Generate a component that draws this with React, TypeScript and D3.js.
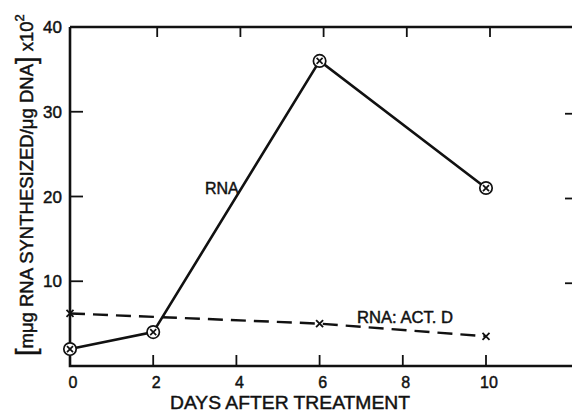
import React from "react";
import * as d3 from "d3";

const days = [0, 2, 6, 10];
const rnaValues = [2, 4, 36, 21];
const actDays = [0, 6, 10];
const actValues = [6.2, 5.0, 3.5];
const xTicks = [0, 2, 4, 6, 8, 10];
const yTicks = [10, 20, 30, 40];
const xTickLabels = ["0", "2", "4", "6", "8", "10"];

const W = 572;
const H = 412;
const FONT = "'Liberation Sans', Arial, sans-serif";
const INK = "#111";

export default function App() {
  const x = d3.scaleLinear().domain([0, 10]).range([70, 486]);
  const y = d3.scaleLinear().domain([0, 40]).range([366, 27]);
  const xRight = 574;

  const rnaPts: [number, number][] = days.map((d, i) => [x(d), y(rnaValues[i])]);
  const actPts: [number, number][] = actDays.map((d, i) => [x(d), y(actValues[i])]);
  const line = d3.line<[number, number]>().x((p) => p[0]).y((p) => p[1]);

  const txt = { fontFamily: FONT, fill: INK, stroke: INK, strokeWidth: 0.45 };

  return (
    <svg
      width={W}
      height={H}
      viewBox={`0 0 ${W} ${H}`}
      style={{ position: "absolute", left: 0, top: 0, background: "#fff" }}
    >
      <rect x={0} y={0} width={W} height={H} fill="#fff" />
      {/* frame */}
      <path
        d={`M${x(0)},${y(40)} L${x(0)},${y(0)} L${xRight},${y(0)}`}
        fill="none"
        stroke={INK}
        strokeWidth={2.6}
      />
      <line x1={x(0)} x2={xRight} y1={y(40)} y2={y(40)} stroke={INK} strokeWidth={2.4} />
      {/* bottom ticks */}
      {xTicks.slice(1).map((t) => (
        <line key={"bx" + t} x1={x(t)} x2={x(t)} y1={y(0)} y2={y(0) - 11} stroke={INK} strokeWidth={1.8} />
      ))}
      {/* top ticks */}
      {xTicks.slice(1).map((t) => (
        <line key={"tx" + t} x1={x(t) + 4} x2={x(t) + 4} y1={y(40)} y2={y(40) + 10} stroke={INK} strokeWidth={1.8} />
      ))}
      {/* left ticks */}
      {yTicks.slice(0, 3).map((t) => (
        <line key={"ly" + t} x1={x(0)} x2={x(0) + 13} y1={y(t)} y2={y(t)} stroke={INK} strokeWidth={1.8} />
      ))}
      {/* right ticks */}
      {yTicks.slice(0, 3).map((t) => (
        <line key={"ry" + t} x1={565} x2={xRight} y1={y(t) + 2} y2={y(t) + 2} stroke={INK} strokeWidth={1.8} />
      ))}
      {/* x tick labels */}
      {xTicks.map((t, i) => (
        <text key={"xl" + t} x={x(t) + 3} y={388} textAnchor="middle" fontSize={16} {...txt}>
          {xTickLabels[i]}
        </text>
      ))}
      {/* y tick labels */}
      {yTicks.map((t) => (
        <text key={"yl" + t} x={62} y={y(t) + 6} textAnchor="end" fontSize={17} {...txt}>
          {t}
        </text>
      ))}
      {/* x axis title */}
      <text x={290} y={409} textAnchor="middle" fontSize={18.5} textLength={240} lengthAdjust="spacingAndGlyphs" {...txt}>
        DAYS AFTER TREATMENT
      </text>
      {/* y axis title */}
      <text transform="translate(33,356) rotate(-90)" fontSize={18.5} {...txt}>
        <tspan fontSize={27} dy={2}>[</tspan>
        <tspan dy={-2}>mμg RNA SYNTHESIZED/μg DNA</tspan>
        <tspan fontSize={27} dy={2}>]</tspan>
        <tspan dy={-2}> x10</tspan>
        <tspan fontSize={13} dy={-9}>2</tspan>
      </text>

      {/* ACT D dashed line */}
      <path d={line(actPts) || ""} fill="none" stroke={INK} strokeWidth={2.4} strokeDasharray="15 8" />
      {actPts.map((p, i) => (
        <g key={"ax" + i} stroke={INK} strokeWidth={1.8}>
          <line x1={p[0] - 3.5} x2={p[0] + 3.5} y1={p[1] - 3.5} y2={p[1] + 3.5} />
          <line x1={p[0] - 3.5} x2={p[0] + 3.5} y1={p[1] + 3.5} y2={p[1] - 3.5} />
        </g>
      ))}

      {/* RNA solid line */}
      <path d={line(rnaPts) || ""} fill="none" stroke={INK} strokeWidth={2.6} />
      {rnaPts.map((p, i) => (
        <g key={"rp" + i} stroke={INK} strokeWidth={1.7}>
          <circle cx={p[0]} cy={p[1]} r={6.2} fill="#fff" />
          <line x1={p[0] - 3} x2={p[0] + 3} y1={p[1] - 3} y2={p[1] + 3} />
          <line x1={p[0] - 3} x2={p[0] + 3} y1={p[1] + 3} y2={p[1] - 3} />
        </g>
      ))}

      {/* labels */}
      <text x={205} y={194} fontSize={16} {...txt}>RNA</text>
      <text x={357} y={323} fontSize={16} textLength={96} lengthAdjust="spacingAndGlyphs" {...txt}>
        RNA: ACT. D
      </text>
    </svg>
  );
}
